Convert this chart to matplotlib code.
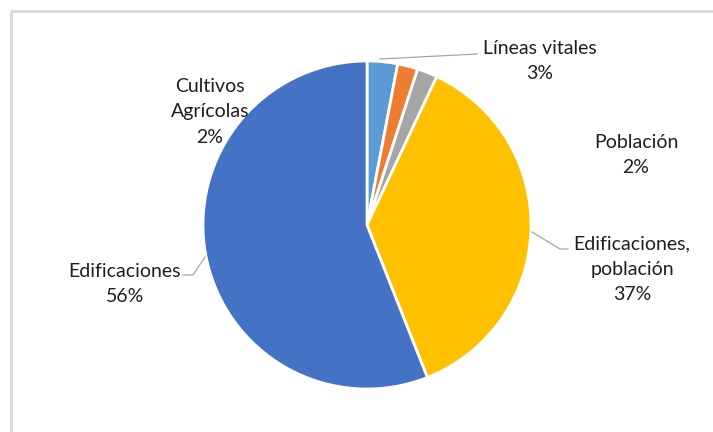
import matplotlib
matplotlib.use("Agg")
import matplotlib.pyplot as plt

# datos del gráfico (sentido horario desde las 12)
categorias = ["Líneas vitales", "Población", "Cultivos\nAgrícolas",
              "Edificaciones,\npoblación", "Edificaciones"]
valores = [3, 2, 2, 37, 56]
colores = ["#5B9BD5", "#ED7D31", "#A5A5A5", "#FFC000", "#4472C4"]

# posiciones de las etiquetas en píxeles (x, y desde arriba)
pos_etiquetas = [(540, 61), (636, 155), (210, 112), (632, 269), (125, 284)]

W, H = 713, 432
fig = plt.figure(figsize=(W / 100, H / 100), dpi=100)
ax = fig.add_axes([0, 0, 1, 1])

# borde del área del gráfico
ax.plot([11, 11, W + 5], [-5, H - 11, H - 11], color="#D9D9D9", lw=2,
        solid_capstyle="butt")

cx, cy, r = 367, H - 225, 164
ax.pie(valores, colors=colores, startangle=90, counterclock=False,
       center=(cx, cy), radius=r, frame=True,
       wedgeprops=dict(edgecolor="white", linewidth=2))
ax.set_xlim(0, W)
ax.set_ylim(0, H)
ax.set_aspect("equal")
ax.axis("off")

total = sum(valores)
for cat, v, (px, py) in zip(categorias, valores, pos_etiquetas):
    txt = f"{cat}\n{round(100 * v / total)}%"
    ax.text(px, H - py, txt, ha="center", va="center", fontsize=14,
            family=["Lato", "DejaVu Sans"], color="#1F1F1F", linespacing=1.6)

# líneas guía
guia = dict(color="#A6A6A6", lw=0.9)
ax.plot([380, 477], [H - 59, H - 54], **guia)
ax.plot([532, 560, 568], [H - 232, H - 249, H - 249], **guia)
ax.plot([205, 193, 183], [H - 257, H - 275, H - 275], **guia)

fig.savefig("out.png", dpi=100)
